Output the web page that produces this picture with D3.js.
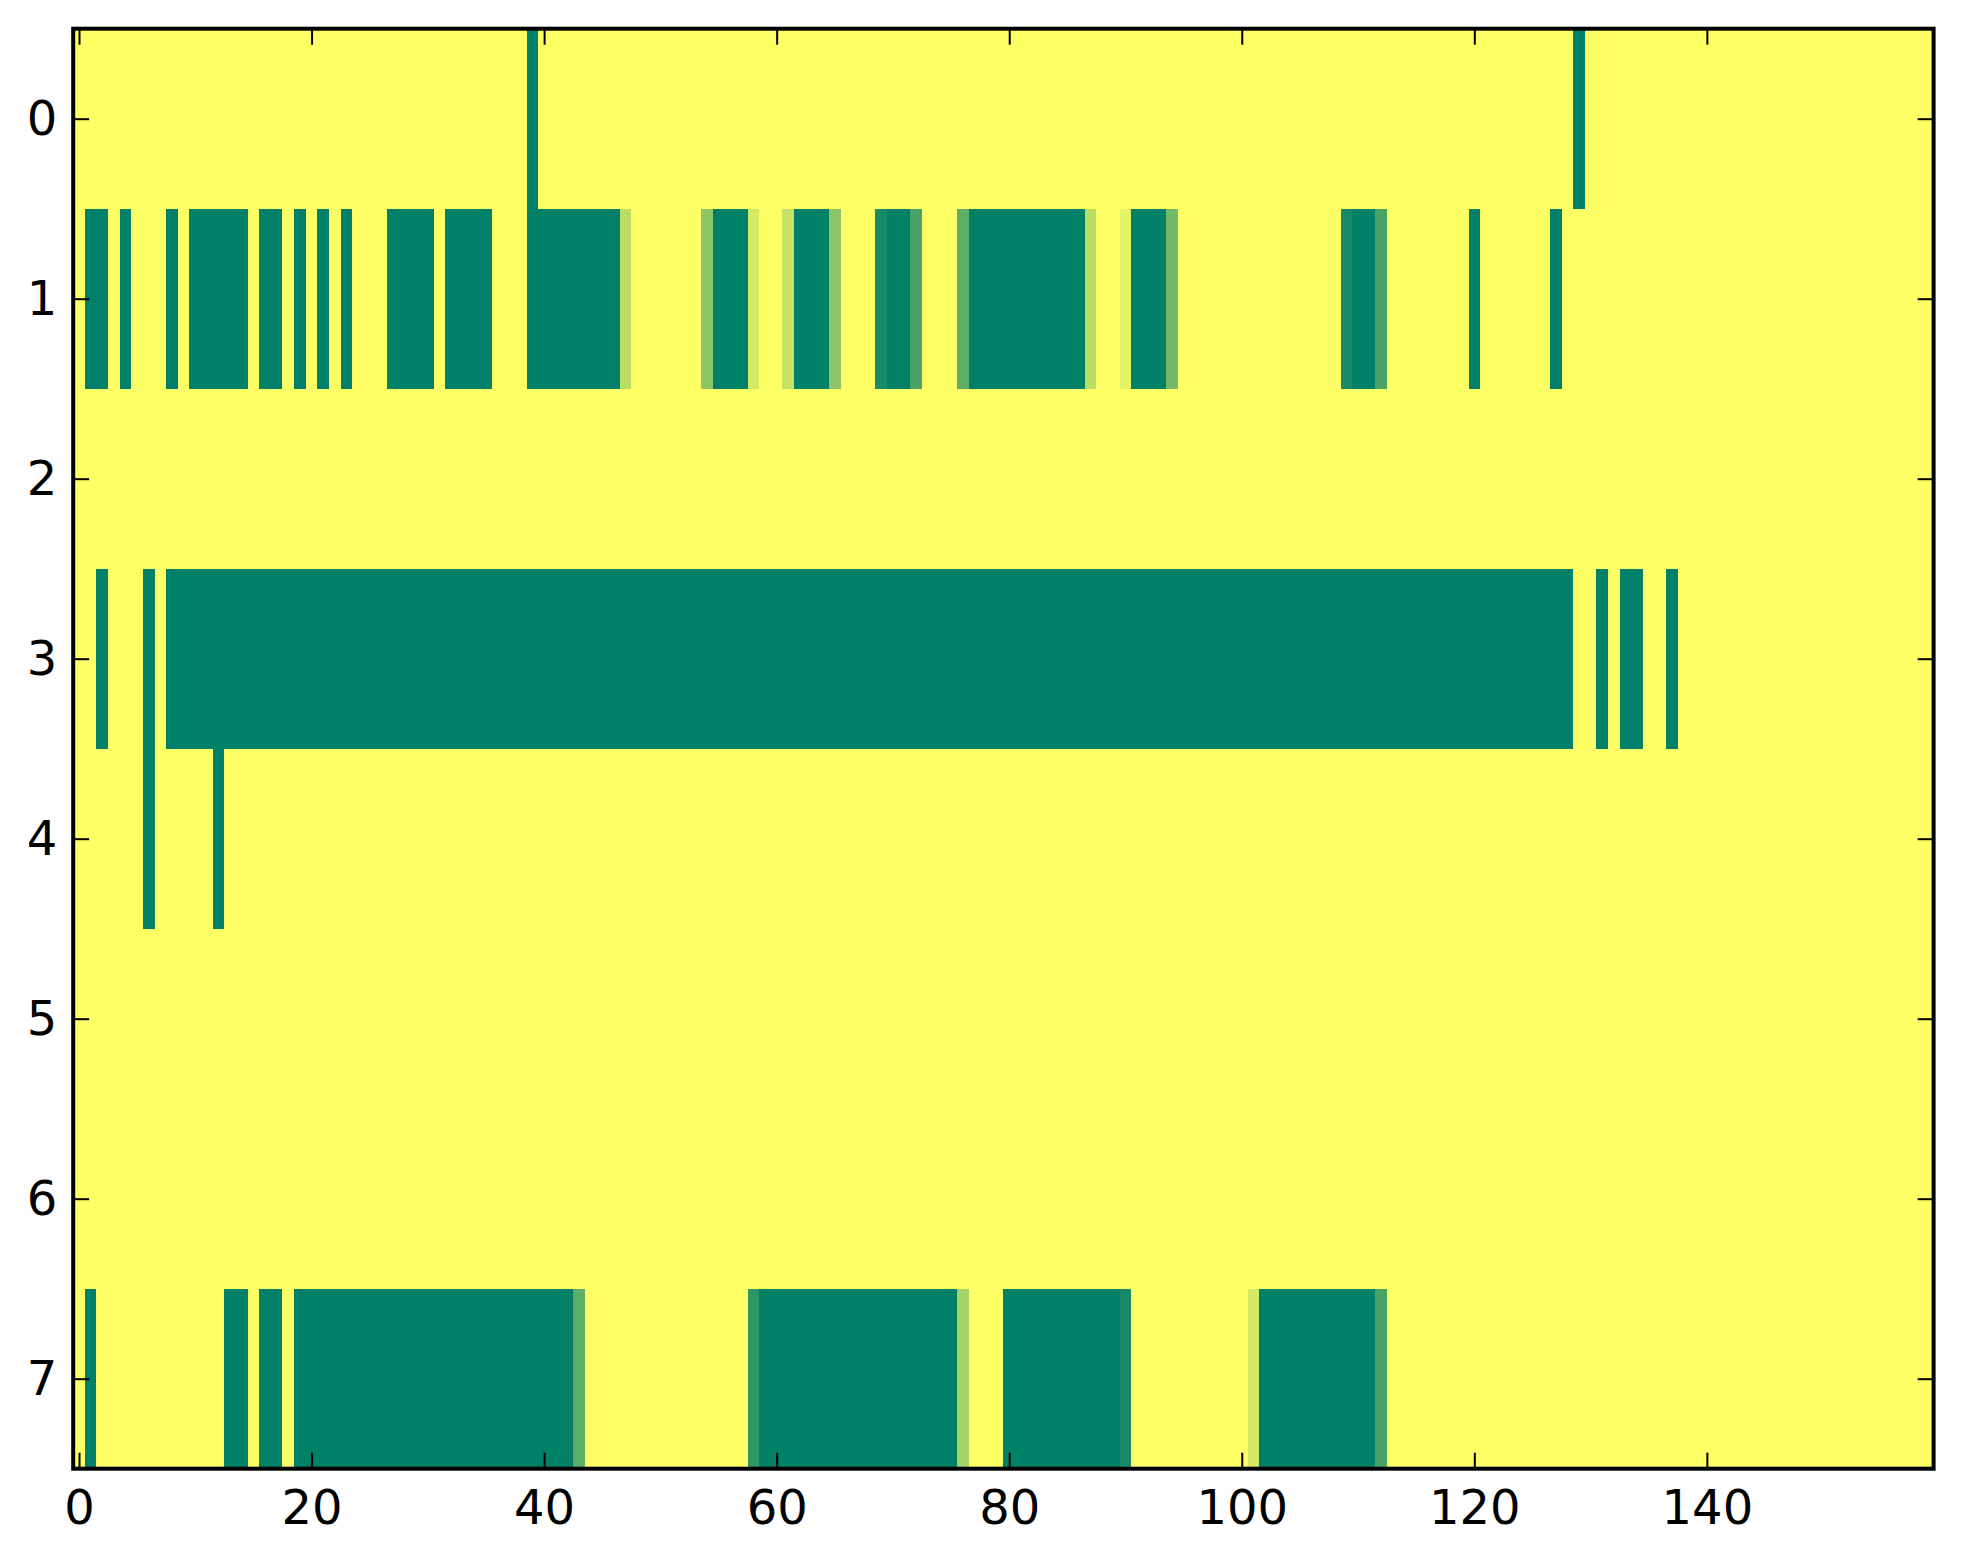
<!DOCTYPE html>
<html>
<head>
<meta charset="utf-8">
<script src="https://cdn.jsdelivr.net/npm/d3@7"></script>
<style>
    body { margin: 0; background: #ffffff; }
    .tick-label { font-family: "DejaVu Sans", sans-serif; font-size: 48px; fill: #000000; }
</style>
</head>
<body>
<svg id="chart" width="1963" height="1564"></svg>
<script>
// matrix size: 8 rows x 160 columns, values 0..1
const nRows = 8;
const nCols = 160;

// each row listed as runs of equal cells: [firstCol, lastCol, value]
const row0 = [[39, 39, 1], [129, 129, 1]];
const row1 = [
    [1, 2, 1], [4, 4, 1], [8, 8, 1], [10, 14, 1], [16, 17, 1], [19, 19, 1],
    [21, 21, 1], [23, 23, 1], [27, 30, 1], [32, 35, 1], [39, 46, 1], [47, 47, 0.27],
    [54, 54, 0.45], [55, 57, 1], [58, 58, 0.17], [61, 61, 0.22], [62, 64, 1],
    [65, 65, 0.45], [69, 69, 0.91], [70, 71, 1], [72, 72, 0.72], [76, 76, 0.63],
    [77, 86, 1], [87, 87, 0.27], [90, 90, 0.10], [91, 93, 1], [94, 94, 0.55],
    [109, 109, 0.91], [110, 111, 1], [112, 112, 0.72], [120, 120, 1], [127, 127, 1]
];
const row2 = [];
const row3 = [[2, 2, 1], [6, 6, 1], [8, 128, 1], [131, 131, 1], [133, 134, 1], [137, 137, 1]];
const row4 = [[6, 6, 1], [12, 12, 1]];
const row5 = [];
const row6 = [];
const row7 = [
    [1, 1, 1], [13, 14, 1], [16, 17, 1], [19, 42, 1], [43, 43, 0.63],
    [58, 58, 0.82], [59, 75, 1], [76, 76, 0.35], [80, 89, 1], [90, 90, 0.91],
    [101, 101, 0.17], [102, 111, 1], [112, 112, 0.72]
];
const rowRuns = [row0, row1, row2, row3, row4, row5, row6, row7];

const xTicks = [0, 20, 40, 60, 80, 100, 120, 140];
const yTicks = [0, 1, 2, 3, 4, 5, 6, 7];

// turn the runs into one cell per (row, col)
const cells = [];
rowRuns.forEach((runs, r) => {
    const vals = new Array(nCols).fill(0);
    runs.forEach(([a, b, v]) => {
        for (let c = a; c <= b; c++) vals[c] = v;
    });
    vals.forEach((v, c) => cells.push({ row: r, col: c, value: v }));
});

const svg = d3.select("#chart");

const plotLeft = 73.2, plotRight = 1933.6, plotTop = 28.7, plotBottom = 1468.7;

const x = d3.scaleLinear().domain([-0.5, nCols - 0.5]).range([plotLeft, plotRight]);
const y = d3.scaleLinear().domain([-0.5, nRows - 0.5]).range([plotTop, plotBottom]);

// summer_r colormap: 0 -> yellow, 1 -> green
const color = d3.scaleLinear().domain([0, 1]).range(["#ffff66", "#008066"]);

svg.append("g")
    .attr("class", "cells")
    .selectAll("rect")
    .data(cells)
    .enter().append("rect")
    .attr("x", d => x(d.col - 0.5))
    .attr("y", d => y(d.row - 0.5))
    .attr("width", d => x(d.col + 0.5) - x(d.col - 0.5))
    .attr("height", d => y(d.row + 0.5) - y(d.row - 0.5))
    .attr("fill", d => color(d.value))
    .attr("shape-rendering", "crispEdges");

const tickLen = 16;

// ticks point inward on all four sides
const axisBottom = d3.axisBottom(x).tickValues(xTicks).tickSizeInner(-tickLen).tickSizeOuter(0).tickPadding(21);
const axisTop = d3.axisTop(x).tickValues(xTicks).tickSizeInner(-tickLen).tickSizeOuter(0).tickFormat("");
const axisLeft = d3.axisLeft(y).tickValues(yTicks).tickSizeInner(-tickLen).tickSizeOuter(0).tickPadding(16);
const axisRight = d3.axisRight(y).tickValues(yTicks).tickSizeInner(-tickLen).tickSizeOuter(0).tickFormat("");

function styleAxis(g) {
    g.select(".domain").remove();
    g.selectAll(".tick line").attr("stroke", "#000").attr("stroke-width", 2);
    g.selectAll(".tick text").attr("class", "tick-label").attr("font-size", null).attr("font-family", null);
}

svg.append("g").attr("transform", `translate(0,${plotBottom})`).call(axisBottom).call(styleAxis);
svg.append("g").attr("transform", `translate(0,${plotTop})`).call(axisTop).call(styleAxis);
svg.append("g").attr("transform", `translate(${plotLeft},0)`).call(axisLeft).call(styleAxis);
svg.append("g").attr("transform", `translate(${plotRight},0)`).call(axisRight).call(styleAxis);

// frame
svg.append("rect")
    .attr("x", plotLeft)
    .attr("y", plotTop)
    .attr("width", plotRight - plotLeft)
    .attr("height", plotBottom - plotTop)
    .attr("fill", "none")
    .attr("stroke", "#000")
    .attr("stroke-width", 4);
</script>
</body>
</html>
